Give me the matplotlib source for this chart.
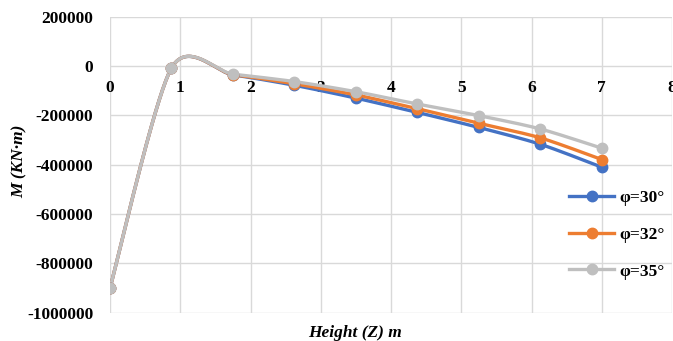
import numpy as np
import matplotlib
matplotlib.use("Agg")
import matplotlib.pyplot as plt
from matplotlib.lines import Line2D

# ---- data ----
heights = [0, 0.875, 1.75, 2.625, 3.5, 4.375, 5.25, 6.125, 7]
series_labels = ["φ=30°", "φ=32°", "φ=35°"]
m_phi30 = [-900000, -8000, -36000, -78000, -130000, -188000, -249000, -317000, -410000]
m_phi32 = [-900000, -8000, -35000, -72000, -117000, -173000, -232000, -291000, -379000]
m_phi35 = [-900000, -8000, -33000, -63000, -104000, -154000, -201000, -255000, -333000]
series_colors = ["#4472C4", "#ED7D31", "#BFBFBF"]
x_ticks = [0, 1, 2, 3, 4, 5, 6, 7, 8]
y_ticks = [200000, 0, -200000, -400000, -600000, -800000, -1000000]

SERIF = ["Liberation Serif", "DejaVu Serif"]


def smooth(x, y, f=0.135, n=40):
    """Excel-like Catmull-Rom/Bezier smoothing through the data points."""
    P = np.column_stack([x, y]).astype(float)
    sx = 8.0
    sy = 1200000.0
    P = P / [sx, sy]
    out = []
    m = len(P)
    for i in range(m - 1):
        p0 = P[i - 1] if i > 0 else P[i]
        p1 = P[i]
        p2 = P[i + 1]
        p3 = P[i + 2] if i + 2 < m else P[i + 1]
        c1 = p1 + f * (p2 - p0)
        c2 = p2 - f * (p3 - p1)
        t = np.linspace(0, 1, n)[:, None]
        seg = ((1 - t) ** 3) * p1 + 3 * ((1 - t) ** 2) * t * c1 + 3 * (1 - t) * t ** 2 * c2 + t ** 3 * p2
        out.append(seg if i == 0 else seg[1:])
    S = np.vstack(out) * [sx, sy]
    return S[:, 0], S[:, 1]


fig = plt.figure(figsize=(6.73, 3.41), dpi=100)
ax = fig.add_axes([110 / 673, 1 - 312.7 / 341, 562 / 673, (312.7 - 16.7) / 341])

for vals, col in zip([m_phi30, m_phi32, m_phi35], series_colors):
    sxv, syv = smooth(heights, vals)
    ax.plot(sxv, syv, color=col, lw=2.4, solid_capstyle="round", zorder=3)
    ax.plot(heights, vals, ls="none", marker="o", ms=7.5, color=col, zorder=4)

ax.set_xlim(0, 8)
ax.set_ylim(-1000000, 200000)
ax.set_xticks(x_ticks)
ax.set_yticks(y_ticks)
ax.set_xticklabels([str(v) for v in x_ticks])
ax.set_yticklabels([str(v) for v in y_ticks])
ax.grid(True, color="#D9D9D9", lw=1.0, zorder=0)
ax.set_axisbelow(True)

for s in ["top", "right", "left"]:
    ax.spines[s].set_visible(False)
ax.spines["bottom"].set_position(("data", 0))
ax.spines["bottom"].set_visible(False)
ax.tick_params(axis="both", length=0)
ax.tick_params(axis="x", pad=10)
ax.tick_params(axis="y", pad=12)

for lab in ax.get_xticklabels() + ax.get_yticklabels():
    lab.set_family(SERIF)
    lab.set_fontweight("bold")
    lab.set_fontsize(12.5)

fig.text(20 / 673, 1 - 161 / 341, "M (KN·m)", rotation=90, ha="center", va="center",
         family=SERIF, fontweight="bold", fontstyle="italic", fontsize=12.5)
fig.text(355 / 673, 1 - 333 / 341, "Height (Z) m", ha="center", va="center",
         family=SERIF, fontweight="bold", fontstyle="italic", fontsize=12.5)

handles = [Line2D([0], [0], color=c, lw=2.4, marker="o", ms=7.5) for c in series_colors]
leg = ax.legend(handles, series_labels, loc="center left",
                frameon=False, handlelength=2.6, handletextpad=0.3, labelspacing=1.2,
                borderpad=0, borderaxespad=0,
                prop={"family": SERIF, "weight": "bold", "size": 12.5})
leg.set_bbox_to_anchor((569 / 673, 1 - 234.5 / 341), transform=fig.transFigure)

fig.savefig("out.png", dpi=100)
